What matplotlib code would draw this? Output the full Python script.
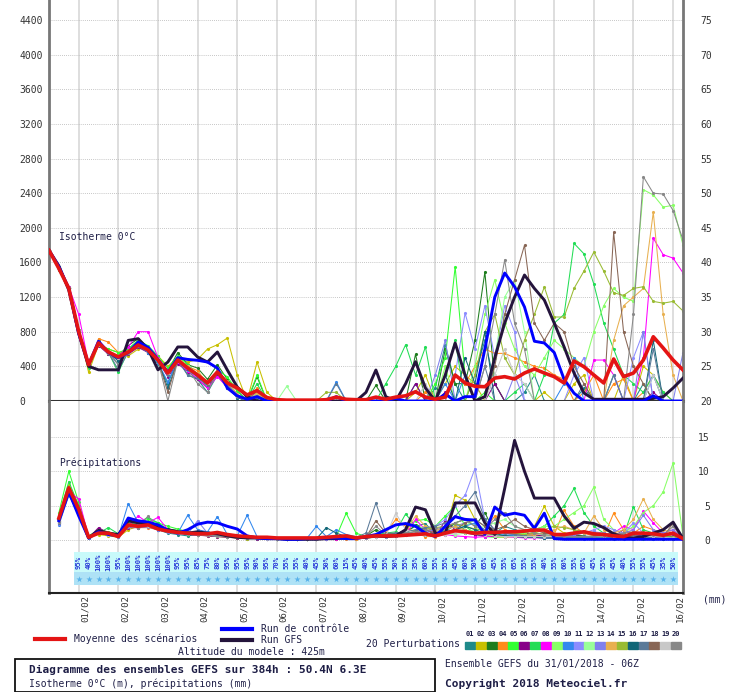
# -*- coding: utf-8 -*-
import numpy as np
import matplotlib.pyplot as plt
from matplotlib.patches import Rectangle
from matplotlib.lines import Line2D
from matplotlib.transforms import ScaledTranslation

plt.rcParams['font.family'] = ['DejaVu Sans Mono']

W, H = 732, 692
steps = np.arange(65)            # 6h steps from 31/01 06Z
prec_steps = steps[1:]
day_steps = np.arange(3, 64, 4)
days = ['01/02', '02/02', '03/02', '04/02', '05/02', '06/02', '07/02', '08/02',
        '09/02', '10/02', '11/02', '12/02', '13/02', '14/02', '15/02', '16/02']

# isotherme 0C (m)
iso_mean = [1740,1530,1300,800,420,670,566,508,566,647,589,473,323,473,381,300,208,335,208,150,70,120,
            40,15,10,10,10,10,15,45,20,15,15,45,20,45,60,107,45,20,45,
            300,208,170,165,265,281,254,323,370,323,281,208,462,396,300,208,485,281,323,473,742,612,473,358]
iso_ctrl = [1740,1550,1300,780,420,690,560,500,560,680,620,480,330,500,480,470,450,380,150,60,20,50,
            0,0,0,0,0,0,0,50,0,0, 0,0,0,30,0,0,0,0,80,0, 50,
            50,600,1200,1478,1320,1086,690,670,560,250,90,0,0,0,0,0,0,0,60,0,0,0]
iso_gfs = [1740,1560,1280,780,400,360,360,360,700,720,600,360,450,624,624,508,450,566,358,162,50,0,
           0,0,0,0,0,0,0,0,0,0, 100,358,50,0,200,454,150,0,300,
           670,300,0,50,500,900,1200,1455,1300,1166,900,624,323,92,20,20,20,20,20,20,30,50,150,265]

iso_p01 = [1740,1540,1280,760,400,700,560,420,600,700,560,430,200,480,300,250,100,300,150,50,0,100,
           0,0,0,0,0,0,0,0,0,0, 0,0,0,0,0,200,0,150,650,200, 0,300,700,200,0,0,100,300,0,0,
           0,0,150,0,0,0,0,0,200,0, 0,0,0]
iso_p02 = [1740,1520,1320,820,330,650,600,560,520,600,620,520,400,500,450,480,600,650,727,300,0,450,
           100,0,0,0,0,0,0,0,0,0, 0,0,0,0,0,100,300,0,200,400, 300,200,0,0,0,0,0,0,100,0,
           0,200,300,0,0,0,300,0,400,300, 0,0,0]
iso_p03 = [1740,1510,1290,790,430,680,540,520,640,720,620,500,350,560,420,380,250,420,250,120,0,280,
           0,0,0,0,0,0,0,0,0,0, 0,180,0,0,0,540,0,0,600,200, 200,700,1490,200,0,0,0,0,0,0,
           0,0,0,0,0,0,0,0,0,0, 0,0,0]
iso_p04 = [1740,1530,1310,810,410,720,680,560,580,640,560,470,300,500,400,350,200,350,180,50,0,150,
           0,0,0,0,0,0,0,0,0,0, 0,0,0,0,0,0,100,0,0,300, 200,400,600,550,550,500,450,400,380,300,
           250,0,100,300,0,200,250,0,100,300, 100,0,0]
iso_p05 = [1740,1530,1300,800,440,660,600,560,600,700,640,520,380,520,420,300,150,360,280,120,0,300,
           0,0,0,0,0,0,0,0,0,0, 0,0,0,0,0,0,0,200,500,1550, 300,0,100,0,0,0,0,0,0,0,
           0,0,0,0,0,300,0,0,0,0, 0,0,0]
iso_p06 = [1740,1520,1300,800,420,640,540,480,540,620,560,460,280,430,340,250,150,300,150,50,0,120,
           0,0,0,0,0,0,0,0,0,0, 0,0,0,0,0,200,0,0,100,0, 0,0,0,200,0,0,0,0,0,0,
           0,0,0,0,0,0,0,0,0,100, 0,0,0]
iso_p07 = [1740,1550,1320,820,380,660,560,330,580,680,600,480,300,460,420,300,180,350,200,80,0,200,
           0,0,0,0,0,0,0,0,0,0, 0,0,200,400,650,300,624,0,300,700, 0,0,0,0,0,100,200,0,300,900,
           1000,1820,1700,1350,900,600,300,200,100,300, 100,0,0]
iso_p08 = [1740,1540,1320,1000,430,660,560,520,620,800,800,500,350,450,350,260,150,280,160,50,0,60,
           0,0,0,0,0,0,0,0,0,0, 0,0,0,0,0,0,0,0,0,0, 0,0,0,0,0,0,0,0,0,0,
           0,0,0,473,473,300,0,0,500,1880, 1690,1650,1480]
iso_p09 = [1740,1520,1300,790,420,650,550,500,580,660,600,480,310,470,380,300,200,330,180,60,0,100,
           0,0,0,0,0,0,0,0,0,0, 0,0,0,0,0,0,0,0,400,0, 0,400,1000,1400,900,600,400,300,500,700,
           600,500,400,800,1100,1300,1200,1150,2440,2380, 2240,2260,1800]
iso_p10 = [1740,1540,1310,810,430,680,560,480,560,640,560,440,220,470,360,280,180,320,150,40,0,50,
           0,0,0,0,0,0,0,220,0,0, 0,0,0,0,0,0,0,0,200,0, 300,0,0,0,0,0,0,0,0,0,
           200,500,0,0,0,0,0,0,0,300, 0,0,0]
iso_p11 = [1740,1530,1300,800,420,670,570,520,560,660,600,460,300,480,380,300,230,340,220,80,0,80,
           0,0,0,0,0,0,0,0,0,0, 0,0,0,0,0,0,0,0,0,300, 1016,600,1100,500,1100,800,0,0,0,0,
           0,300,500,0,0,0,0,500,800,0, 0,0,0]
iso_p12 = [1740,1530,1290,790,410,660,560,500,560,640,590,480,320,470,400,320,220,340,210,60,0,70,
           0,0,170,0,0,0,0,0,0,0, 0,0,0,0,0,0,0,0,0,0, 0,0,0,500,1200,1400,800,0,0,0,
           0,0,0,0,0,0,0,0,0,0, 0,0,0]
iso_p13 = [1740,1520,1300,800,420,680,560,500,570,650,580,470,330,480,390,310,210,330,200,70,0,60,
           0,0,0,0,0,0,0,0,0,0, 0,0,0,0,0,0,0,300,700,0, 0,0,0,0,0,300,0,0,0,0,
           0,0,0,0,0,300,0,0,800,0, 0,0,560]
iso_p14 = [1740,1540,1310,810,420,670,580,520,580,660,600,490,340,490,400,320,230,350,230,80,0,90,
           0,0,0,0,0,0,0,0,0,0, 0,0,0,0,0,0,0,0,0,0, 0,0,0,0,0,0,0,0,0,0,
           0,0,0,0,0,700,1100,1200,1300,2180, 1000,300,0]
iso_p15 = [1740,1530,1300,800,420,670,560,500,560,650,590,470,320,470,380,300,210,340,200,60,0,60,
           0,0,0,0,0,0,100,100,0,0, 0,0,0,0,0,0,0,0,0,0, 0,300,800,1000,500,300,700,1000,1317,970,
           970,1300,1500,1720,1500,1250,1220,1300,1320,1150, 1130,1150,1040]
iso_p16 = [1740,1530,1300,800,420,680,560,460,560,640,580,460,150,460,370,280,180,320,180,40,0,40,
           0,0,0,0,0,0,0,0,0,0, 0,0,0,0,0,0,0,0,300,0, 500,200,800,0,0,0,0,0,0,0,
           0,0,0,0,0,0,0,0,0,700, 0,0,0]
iso_p17 = [1740,1530,1300,800,420,670,560,360,560,640,580,460,300,470,300,260,190,330,190,50,0,50,
           0,0,0,0,0,0,0,200,0,0, 0,0,0,0,0,0,0,0,0,0, 0,0,400,0,0,0,0,0,0,0,
           0,0,200,0,0,300,0,0,0,600, 0,0,0]
iso_p18 = [1740,1530,1300,800,420,670,560,500,560,650,600,470,100,480,380,300,200,340,200,60,0,60,
           0,0,0,0,0,0,0,0,0,0, 0,0,0,0,0,0,0,0,0,0, 0,0,0,400,1000,1400,1800,900,700,900,
           800,400,200,0,0,1950,800,400,200,0, 0,0,0]
iso_p19 = [1740,1530,1300,800,420,670,560,500,560,650,600,480,320,470,380,300,210,340,210,60,0,60,
           0,0,0,0,0,0,0,0,0,0, 0,0,0,0,0,0,200,0,0,0, 0,0,0,300,600,300,200,0,0,0,
           0,0,0,0,0,0,0,0,0,300, 0,0,0]
iso_p20 = [1740,1530,1300,800,420,670,560,420,560,660,620,470,0,470,380,200,100,330,200,60,0,60,
           0,0,0,0,0,0,0,0,0,0, 0,0,0,0,0,0,0,0,0,0, 0,0,400,1000,1630,900,600,0,0,0,
           0,0,0,0,0,0,0,1000,2590,2400, 2390,2200,1860]

# precipitations (mm), from step 1
pr_mean = [3.2,7.6,4.5,0.4,1.0,1.0,0.5,2.2,2.0,2.2, 1.6,1.3,1.1,1.0,0.9,0.9,1.1,0.8,0.6,0.5,
           0.4,0.4,0.3,0.3,0.3,0.3,0.3,0.4,0.5,0.6, 0.3,0.5,0.6,0.6,0.6,0.7,0.8,0.9,0.6,1.0,
           1.35,1.2,1.0,1.1,1.1,1.2,1.2,1.3,1.45,1.45, 0.8,0.8,1.0,1.2,0.9,0.8,0.6,0.5,1.0,1.0,
           0.9,0.7,1.0,0.2]
pr_ctrl = [2.8,7.0,3.5,0.3,1.2,0.8,0.6,3.2,2.8,2.6, 2.2,1.4,1.0,1.5,2.3,2.6,2.5,2.0,1.6,0.6,
           0.3,0.2,0.2,0.1,0.1,0.2,0.2,0.3,0.3,0.2, 0.2,0.5,0.8,1.5,2.2,2.4,2.0,1.0,0.5,2.0,
           3.4,3.0,2.9,0.8,4.8,3.6,3.9,3.6,1.7,3.9, 0.2,0.1,0.1,0.1,0.1,0.1,0.1,0.1,0.1,0.1,
           0.1,0.1,0.1,0.1]
pr_gfs = [3.0,7.2,4.0,0.3,1.4,1.0,0.8,2.8,2.5,2.4, 1.8,1.5,1.2,1.0,1.2,1.0,0.9,0.6,0.4,0.3,
          0.3,0.2,0.2,0.1,0.1,0.1,0.1,0.2,0.2,0.3, 0.3,0.4,0.6,0.5,0.6,1.5,4.8,4.4,1.0,1.0,
          5.4,5.4,5.4,2.5,0.8,7.5,14.5,10.0,6.1,6.1, 6.1,3.5,1.7,2.6,2.4,1.8,0.9,0.4,0.3,0.5,
          1.0,1.5,2.6,0.2]

pr_p01 = [2.5,7.0,4.0,0.3,1.2,0.8,0.5,2.0,1.8,2.5, 1.5,1.0,0.8,0.6,0.8,1.0,0.9,0.5,0.3,0.2,
          0.2,0.2,0.1,0.1,0.1,0.2,0.2,0.2,0.3,0.4, 0.3,0.4,0.6,0.5,0.8,1.2,2.0,2.4,0.8,1.0,
          2.5,1.5,0.8,0.5,1.0,2.0,1.5,0.8,0.6,0.5, 0.3,0.5,0.8,0.6,0.4,0.3,0.2,0.3,0.5,0.8,
          0.5,0.3,0.4,0.1]
pr_p02 = [3.5,8.0,5.0,0.5,0.8,0.6,0.4,1.5,2.0,2.6, 2.0,1.5,1.2,1.0,0.8,0.6,0.5,0.4,0.3,0.2,
          0.3,0.2,0.1,0.1,0.1,0.1,0.2,0.2,0.2,0.3, 0.2,0.3,0.4,0.5,0.6,0.8,1.5,2.0,1.0,1.2,
          6.5,5.8,3.0,1.2,0.5,0.4,0.5,1.0,2.0,4.9, 2.0,1.0,0.8,0.5,0.4,0.3,0.5,0.4,0.8,0.4,
          0.3,0.2,0.3,0.1]
pr_p03 = [3.0,7.5,4.5,0.4,1.5,1.0,0.7,2.5,2.2,2.0, 1.8,1.6,1.4,1.2,1.0,0.8,0.8,0.6,0.5,0.4,
          0.3,0.3,0.2,0.2,0.2,0.2,0.3,0.3,0.3,0.5, 0.4,0.6,1.5,0.8,0.6,1.0,2.2,1.5,0.8,1.5,
          2.5,3.0,2.0,4.0,1.0,0.6,0.5,0.4,0.5,0.6, 0.4,0.6,0.8,0.5,0.4,0.3,0.5,0.6,0.4,0.3,
          0.5,0.4,0.3,0.1]
pr_p04 = [2.8,6.5,4.0,0.5,1.0,0.8,0.6,2.0,1.8,1.8, 1.5,1.2,1.0,0.9,0.8,0.7,0.6,0.5,0.4,0.3,
          0.3,0.2,0.2,0.1,0.1,0.1,0.2,0.2,0.2,0.2, 0.2,0.3,0.5,1.0,3.0,2.0,1.0,0.5,0.5,0.8,
          1.5,1.0,0.8,1.5,3.5,1.5,1.0,0.8,0.6,0.5, 0.8,4.3,2.0,1.0,0.6,0.5,3.9,1.5,1.0,2.0,
          1.5,1.0,0.5,0.1]
pr_p05 = [4.0,10.0,5.5,0.6,1.5,1.2,0.8,2.5,2.5,3.0, 2.5,2.0,1.6,1.2,1.0,1.0,0.8,0.5,0.4,0.3,
          0.3,0.3,0.2,0.2,0.2,0.2,0.3,0.3,0.5,3.9, 1.0,0.5,0.5,0.6,0.8,1.5,2.8,3.0,2.0,3.5,
          5.0,2.0,1.0,0.5,0.4,0.5,0.6,0.5,0.4,0.3, 0.3,0.4,0.5,0.3,0.2,0.3,0.4,0.3,0.2,0.2,
          0.2,0.2,0.2,0.1]
pr_p06 = [2.5,6.8,4.0,0.3,1.8,1.0,0.6,1.8,1.8,2.0, 1.5,1.2,1.0,0.8,0.7,0.6,0.5,0.4,0.3,0.3,
          0.2,0.2,0.2,0.1,0.1,0.1,0.2,0.2,0.2,0.3, 0.3,0.4,0.5,0.6,0.8,1.5,1.0,0.8,0.6,2.8,
          1.5,1.0,0.8,0.6,0.5,0.6,0.8,1.0,0.8,0.5, 0.4,0.5,0.6,0.5,0.4,0.3,0.5,1.5,0.8,0.5,
          0.4,0.3,0.6,0.1]
pr_p07 = [3.5,8.5,5.0,0.5,1.0,1.8,0.9,2.5,2.5,3.3, 2.5,1.5,1.2,0.8,0.8,0.8,0.7,0.6,0.4,0.3,
          0.3,0.3,0.2,0.2,0.2,0.2,0.3,0.3,0.3,0.5, 0.4,0.6,0.8,1.0,1.2,3.8,2.0,1.0,0.8,1.5,
          2.0,1.5,1.0,0.8,0.6,0.5,0.8,1.0,1.5,2.0, 3.5,5.0,7.5,4.0,2.0,1.0,0.8,0.6,4.8,1.5,
          1.0,0.6,0.4,0.1]
pr_p08 = [3.0,7.0,6.0,0.5,1.0,1.0,0.7,2.0,3.5,2.5, 3.3,1.5,1.2,1.0,0.8,0.7,0.6,0.5,0.4,0.3,
          0.3,0.2,0.2,0.1,0.1,0.1,0.2,0.2,0.2,0.3, 0.3,0.4,0.5,0.6,1.0,0.8,3.0,1.5,1.0,0.8,
          0.6,0.5,0.4,0.5,0.6,0.5,0.4,0.3,0.3,0.3, 0.3,0.4,0.5,0.4,0.3,0.5,1.0,2.0,1.5,4.2,
          2.5,1.0,1.5,0.1]
pr_p09 = [3.0,7.5,4.5,0.4,1.2,0.9,0.6,2.3,2.0,2.2, 1.8,1.4,1.2,1.0,0.9,0.8,0.7,0.6,0.5,0.4,
          0.3,0.3,0.2,0.2,0.2,0.2,0.2,0.3,0.3,0.4, 0.4,0.5,0.6,0.8,1.0,1.2,1.0,0.8,1.0,1.2,
          1.5,2.0,3.0,2.0,1.5,1.0,0.8,1.0,1.5,2.0, 2.0,3.0,4.0,5.0,7.7,3.0,1.5,1.0,2.0,4.0,
          5.0,7.0,11.2,0.5]
pr_p10 = [2.2,6.5,4.0,0.3,1.0,0.8,0.5,5.3,2.5,2.0, 1.5,1.2,1.0,3.6,1.5,1.2,3.4,0.8,0.6,3.6,
          0.5,0.5,0.3,0.2,0.2,0.2,2.0,0.5,1.5,0.8, 0.5,0.4,0.5,0.6,0.8,1.0,1.2,1.0,0.8,1.0,
          1.5,2.0,2.5,1.5,1.0,0.8,0.6,0.5,0.4,0.3, 0.3,0.4,0.3,0.2,0.3,0.5,0.3,0.2,0.2,0.3,
          0.2,0.2,0.2,0.1]
pr_p11 = [2.6,6.8,4.2,0.4,1.1,0.9,0.6,2.1,2.0,2.1, 1.7,1.3,1.1,0.9,0.8,0.7,0.6,0.5,0.4,0.3,
          0.3,0.2,0.2,0.2,0.2,0.2,0.2,0.2,0.3,0.3, 0.3,0.4,0.5,0.6,0.8,1.0,1.2,1.5,2.0,3.0,
          5.0,6.5,10.4,3.0,1.5,1.0,0.8,0.6,0.5,0.4, 0.5,0.6,0.8,1.0,1.5,2.0,1.5,1.0,2.5,1.0,
          0.5,0.3,0.2,0.1]
pr_p12 = [2.7,7.2,4.3,0.4,1.0,0.8,0.5,2.0,1.9,2.0, 1.6,1.3,1.1,0.9,0.8,0.7,0.6,0.5,0.4,0.3,
          0.3,0.2,0.2,0.2,0.2,0.2,0.2,0.3,0.3,0.3, 0.4,0.5,0.5,0.6,0.8,1.0,1.5,2.0,1.5,1.0,
          0.8,1.0,1.5,2.0,2.5,3.0,2.0,1.5,1.0,0.8, 0.6,0.5,0.4,0.4,0.3,0.4,0.5,0.6,0.5,0.4,
          0.3,0.3,0.2,0.1]
pr_p13 = [2.4,6.6,4.0,0.3,1.0,0.8,0.5,1.9,1.8,1.9, 1.5,1.2,1.0,0.9,2.8,1.0,0.7,0.5,0.4,0.3,
          0.3,0.2,0.2,0.2,0.2,0.2,0.2,0.2,0.3,0.3, 0.3,0.3,0.4,0.5,0.6,0.8,1.0,1.2,1.5,1.5,
          2.0,2.5,3.0,2.0,1.5,1.0,0.8,0.6,0.5,0.5, 0.5,0.6,0.8,1.0,1.2,1.0,0.8,1.0,1.5,3.6,
          1.5,1.0,1.5,0.1]
pr_p14 = [2.9,7.3,4.6,0.4,1.1,0.9,0.6,2.2,2.0,2.1, 1.7,1.4,1.2,1.0,0.9,0.8,0.7,0.6,0.5,0.4,
          0.3,0.3,0.2,0.2,0.2,0.2,0.2,0.3,0.3,0.4, 0.4,0.5,0.6,0.8,1.0,1.2,3.5,2.0,1.5,1.5,
          2.0,1.5,1.0,0.8,0.6,0.5,0.5,0.6,0.8,1.0, 1.5,2.0,1.5,1.0,3.5,1.5,1.0,1.5,3.0,6.0,
          3.0,1.5,1.0,0.2]
pr_p15 = [2.8,7.0,4.4,0.4,1.0,0.9,0.6,2.0,2.0,2.2, 1.7,1.3,1.1,1.0,0.9,0.8,0.7,0.6,0.5,0.4,
          0.3,0.3,0.2,0.2,0.2,0.2,0.3,0.3,0.3,0.4, 0.4,0.5,0.6,0.8,1.0,1.2,1.4,1.6,1.8,2.0,
          2.4,2.0,1.6,1.4,1.2,1.0,0.9,0.8,1.0,1.5, 2.0,1.8,1.5,1.2,1.0,0.8,0.6,0.5,0.4,0.5,
          0.6,0.5,0.4,0.1]
pr_p16 = [2.6,7.0,4.2,0.4,1.0,0.9,0.6,2.0,2.0,2.0, 1.6,1.3,1.1,0.9,0.8,0.7,0.6,0.5,0.4,0.3,
          0.3,0.3,0.3,0.2,0.2,0.2,0.2,1.8,1.0,0.5, 0.4,0.5,0.6,0.8,1.0,1.2,1.0,0.8,1.0,1.2,
          1.5,2.0,1.5,1.0,0.8,0.6,0.5,0.4,0.4,0.3, 0.3,0.3,0.3,0.3,0.3,0.3,0.3,0.3,0.3,0.3,
          0.3,0.2,0.2,0.1]
pr_p17 = [2.5,6.9,4.1,0.4,1.0,0.8,0.6,2.0,1.9,2.0, 1.6,1.3,1.1,0.9,0.8,0.7,0.6,0.5,0.4,0.3,
          0.3,0.3,0.2,0.2,0.2,0.2,0.2,0.3,0.3,0.4, 0.4,1.0,5.4,1.0,1.0,1.2,1.5,1.8,2.0,2.5,
          3.5,5.0,7.0,3.0,1.5,1.0,0.8,0.6,0.5,0.5, 0.5,0.5,0.5,0.5,0.5,0.6,0.7,0.8,0.6,0.5,
          0.4,0.3,0.2,0.1]
pr_p18 = [2.7,7.1,4.3,0.4,1.0,0.9,0.6,2.1,2.0,2.1, 1.6,1.3,1.1,0.9,0.8,0.7,0.6,0.5,0.4,0.3,
          0.3,0.3,0.2,0.2,0.2,0.2,0.2,0.3,0.3,0.3, 0.3,0.4,2.8,1.0,0.8,1.0,1.2,1.5,1.0,1.2,
          1.5,2.5,3.0,2.0,1.5,2.0,3.0,2.0,1.5,1.0, 0.8,0.6,0.5,0.5,0.6,0.8,1.0,0.8,0.6,0.5,
          0.5,0.4,2.5,0.1]
pr_p19 = [2.6,6.9,4.2,0.4,1.0,0.8,0.6,2.0,1.9,2.0, 1.6,1.3,1.1,0.9,0.8,0.7,0.6,0.5,0.4,0.3,
          0.3,0.2,0.2,0.2,0.2,0.2,0.2,0.3,0.3,0.3, 0.3,0.4,0.5,0.6,3.9,1.5,1.0,0.8,0.6,0.8,
          1.0,1.2,1.0,0.8,0.6,0.5,0.5,0.5,0.5,0.5, 0.5,0.5,0.5,0.5,0.5,0.5,0.5,0.5,0.5,0.5,
          0.5,0.4,0.3,0.1]
pr_p20 = [2.6,7.0,4.2,0.4,1.0,0.9,0.6,2.0,1.8,3.5, 1.6,1.3,1.1,0.9,0.8,0.7,0.6,0.5,0.4,0.3,
          0.3,0.3,0.2,0.2,0.2,0.2,0.3,0.3,0.3,0.4, 0.4,0.5,2.0,0.8,0.8,1.0,1.2,1.4,1.6,2.0,
          2.5,3.0,2.0,1.5,3.0,4.0,2.0,1.5,1.0,0.8, 0.6,0.5,0.5,0.5,0.5,0.6,0.8,1.0,1.2,1.0,
          0.8,0.6,2.0,0.1]

# snow probability row, from step 3 to 63
snow_pct = [95,40,100,100,95,100,100,100,100,100, 95,95,85,75,80,95,95,95,90,95,
            70,55,55,40,45,50,60,15,45,40, 45,55,50,55,35,60,55,55,45,60,
            50,65,45,55,65,55,55,40,55,60, 55,65,45,55,45,40,55,55,45,35, 50]
pct_steps = np.arange(3, 64)

pert_colors = ['#1f8a8a', '#c8c000', '#1e7d1e', '#ff8c1a', '#33ff33', '#880088', '#22dd55', '#ff00ff',
               '#88ff66', '#3388ee', '#8c8cff', '#99ff99', '#8080ee', '#e8b050', '#99bb33', '#116677',
               '#5a7a99', '#886655', '#c8c8c8', '#888888']
iso_perts = [iso_p01, iso_p02, iso_p03, iso_p04, iso_p05, iso_p06, iso_p07, iso_p08, iso_p09, iso_p10,
             iso_p11, iso_p12, iso_p13, iso_p14, iso_p15, iso_p16, iso_p17, iso_p18, iso_p19, iso_p20]
pr_perts = [pr_p01, pr_p02, pr_p03, pr_p04, pr_p05, pr_p06, pr_p07, pr_p08, pr_p09, pr_p10,
            pr_p11, pr_p12, pr_p13, pr_p14, pr_p15, pr_p16, pr_p17, pr_p18, pr_p19, pr_p20]

txt = '#1e1e46'
fig = plt.figure(figsize=(W / 100, H / 100), dpi=100)


def box(x0, y0, x1, y1):
    return [x0 / W, 1 - y1 / H, (x1 - x0) / W, (y1 - y0) / H]


def ftext(x, y, s, **kw):
    kw.setdefault('color', txt)
    kw.setdefault('fontsize', 7)
    fig.text(x / W, 1 - y / H, s, va='center', **kw)


ax1 = fig.add_axes(box(49, 0, 683, 401))
ax2 = fig.add_axes(box(49, 401, 683, 593))
ax1.set_ylim(0, 4631)
ax2.set_ylim(-7.71, 20.23)
for ax in (ax1, ax2):
    ax.set_xlim(0, 64)
    ax.set_xticks([])
    for d in day_steps:
        ax.axvline(d, color='#d4d4d4', lw=1.1, zorder=0)
    ax.spines['top'].set_visible(False)
    for side in ('left', 'right'):
        ax.spines[side].set_color('#777777')
        ax.spines[side].set_linewidth(2)
ax1.spines['bottom'].set_color('#333333')
ax1.spines['bottom'].set_linewidth(2.2)
ax2.spines['bottom'].set_color('#222222')
ax2.spines['bottom'].set_linewidth(1.5)

for v in range(400, 4800, 400):
    ax1.axhline(v, color='#b4b4b4', lw=0.6, ls=(0, (1, 1.5)), zorder=0)
for v in (0, 5, 10, 15):
    ax2.axhline(v, color='#b4b4b4', lw=0.6, ls=(0, (1, 1.5)), zorder=0)

# snow band
ax2.bar(pct_steps, 2.9, bottom=-4.65, width=1.0, color='#c8fafa', zorder=1)
ax2.bar(pct_steps, 1.9, bottom=-6.55, width=1.0, color='#aee2f6', zorder=1)
ax2.scatter(pct_steps, np.full(len(pct_steps), -5.6), marker='*', s=22, color='#58b2ea', lw=0, zorder=2)
for s, p in zip(pct_steps, snow_pct):
    ax2.text(s, -3.3, f'{p}%', rotation=90, ha='center', va='center', fontsize=5.2,
             color='#2a3ad8', fontweight='bold', zorder=3)

# members
for vals, c in zip(iso_perts, pert_colors):
    ax1.plot(steps, vals, color=c, lw=0.75, marker='.', ms=2.5, zorder=2)
for vals, c in zip(pr_perts, pert_colors):
    ax2.plot(prec_steps, vals, color=c, lw=0.75, marker='.', ms=2.5, zorder=2)

ax1.plot(steps, iso_gfs, color='#24143c', lw=2.1, zorder=3)
ax1.plot(steps, iso_ctrl, color='#0000ff', lw=2.1, zorder=4)
ax1.plot(steps, iso_mean, color='#e41414', lw=2.6, zorder=5)
ax2.plot(prec_steps, pr_gfs, color='#24143c', lw=2.1, zorder=3)
ax2.plot(prec_steps, pr_ctrl, color='#0000ff', lw=2.1, zorder=4)
ax2.plot(prec_steps, pr_mean, color='#e41414', lw=2.6, zorder=5)

# y ticks
ax1.set_yticks(range(0, 4800, 400))
ax1.tick_params(axis='y', length=0, pad=21.6, labelsize=7, labelcolor='#333333')
plt.setp(ax1.get_yticklabels(), ha='left')
sec = ax1.secondary_yaxis('right', functions=(lambda m: 20 + m / 80, lambda v: (v - 20) * 80))
sec.set_yticks(range(20, 80, 5))
sec.tick_params(length=0, pad=20.9, labelsize=7, labelcolor='#333333')
sec.spines['right'].set_visible(False)
plt.setp(sec.get_yticklabels(), ha='right')

ax2.yaxis.tick_right()
ax2.set_yticks([0, 5, 10, 15])
ax2.tick_params(axis='y', length=0, pad=19.4, labelsize=7, labelcolor='#333333')
plt.setp(ax2.get_yticklabels(), ha='right')

# date labels
shift = ScaledTranslation(7 / 100, -2 / 100, fig.dpi_scale_trans)
for d, lab in zip(day_steps, days):
    ax2.text(d, 0, lab, transform=ax2.get_xaxis_transform() + shift, rotation=90,
             ha='center', va='top', fontsize=6.5, color='#333333')

ftext(59, 237, 'Isotherme 0°C')
ftext(59, 463, 'Précipitations')
ftext(703, 600, '(mm)')

# legend
fig.add_artist(Line2D([35 / W, 65 / W], [1 - 639 / H] * 2, color='#e41414', lw=3))
ftext(74, 639, 'Moyenne des scénarios')
fig.add_artist(Line2D([222 / W, 252 / W], [1 - 629 / H] * 2, color='#0000ff', lw=3))
ftext(261, 629, 'Run de contrôle')
fig.add_artist(Line2D([222 / W, 252 / W], [1 - 640 / H] * 2, color='#24143c', lw=3))
ftext(261, 640, 'Run GFS')
ftext(178, 652, 'Altitude du modele : 425m')
ftext(366, 644, '20 Perturbations')
for k, c in enumerate(pert_colors):
    x0 = 465 + k * 10.85
    fig.add_artist(Rectangle((x0 / W, 1 - 649 / H), 10 / W, 7 / H, color=c, transform=fig.transFigure))
    fig.text((x0 + 5) / W, 1 - 634 / H, f'{k + 1:02d}', ha='center', va='center',
             fontsize=5, fontweight='bold', color=txt)

fig.add_artist(Rectangle((15 / W, 0.5 / H), 420 / W, 32.5 / H, fill=False, ec='#111111', lw=1.3,
                         transform=fig.transFigure))
ftext(29, 670, 'Diagramme des ensembles GEFS sur 384h : 50.4N 6.3E', fontsize=8, fontweight='bold')
ftext(29, 684, 'Isotherme 0°C (m), précipitations (mm)')
ftext(445, 664, 'Ensemble GEFS du 31/01/2018 - 06Z')
ftext(445, 684, 'Copyright 2018 Meteociel.fr', fontsize=8, fontweight='bold')

fig.savefig('out.png', dpi=100)
